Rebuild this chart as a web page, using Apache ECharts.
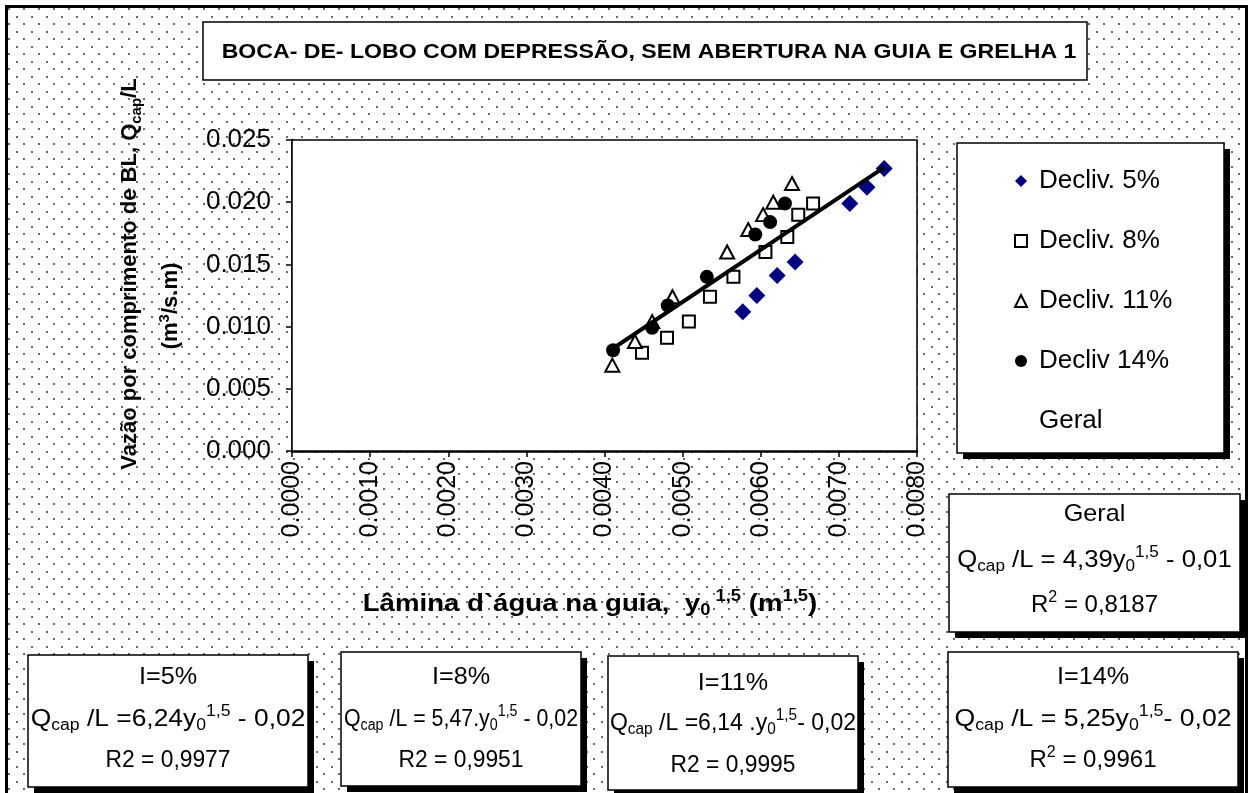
<!DOCTYPE html>
<html>
<head>
<meta charset="utf-8">
<script src="https://cdn.jsdelivr.net/npm/echarts@6/dist/echarts.min.js"></script>
<style>
  html, body { margin: 0; padding: 0; background: #fff; }
  #chart { width: 1253px; height: 793px; }
</style>
</head>
<body>
<div id="chart"></div>
<script>
// Decliv. 5%
var x5 = [0.00577, 0.00595, 0.00621, 0.00644, 0.00714, 0.00736, 0.00758];
var y5 = [0.0112, 0.0125, 0.0141, 0.0152, 0.0199, 0.0212, 0.0227];
// Decliv. 8%
var x8 = [0.00448, 0.00480, 0.00508, 0.00535, 0.00565, 0.00606, 0.00634, 0.00648, 0.00667];
var y8 = [0.0079, 0.0091, 0.0104, 0.0124, 0.0140, 0.0160, 0.0172, 0.0190, 0.0199];
// Decliv. 11%
var x11 = [0.00410, 0.00439, 0.00461, 0.00487, 0.00557, 0.00584, 0.00603, 0.00616, 0.00640];
var y11 = [0.0069, 0.0088, 0.0104, 0.0124, 0.0160, 0.0178, 0.0190, 0.0200, 0.0215];
// Decliv 14%
var x14 = [0.00411, 0.00461, 0.00481, 0.00531, 0.00593, 0.00612, 0.00631];
var y14 = [0.0081, 0.0099, 0.0117, 0.0140, 0.0174, 0.0184, 0.0199];
// Geral (linha de tendência)
var trendX = [0.00405, 0.00758];
var trendY = [0.0080, 0.0228];

var seriesNames = ['Decliv. 5%', 'Decliv. 8%', 'Decliv. 11%', 'Decliv 14%', 'Geral'];

var FONT = 'Liberation Sans, Arial, sans-serif';

function pairs(xs, ys) {
  return xs.map(function (x, i) { return [x, ys[i]]; });
}

// fundo pontilhado
var pat = document.createElement('canvas');
pat.width = 15; pat.height = 15;
var pc = pat.getContext('2d');
pc.fillStyle = '#6b6b6b';
pc.fillRect(1, 1, 2, 2);
pc.fillRect(8, 8, 2, 2);

// estilos de texto com índice / expoente
function mkRich(size, bold) {
  var w = bold ? 'bold' : 'normal';
  var s = Math.round(size * 0.66);
  return {
    n: { fontSize: size, lineHeight: size + 6, verticalAlign: 'middle', fontFamily: FONT, fontWeight: w, color: '#000' },
    sub: { fontSize: s, lineHeight: s, verticalAlign: 'bottom', fontFamily: FONT, fontWeight: w, color: '#000' },
    sup: { fontSize: s, lineHeight: s, verticalAlign: 'top', fontFamily: FONT, fontWeight: w, color: '#000' }
  };
}
var rich = mkRich(24, false);

function txt(x, y, text, r, rot, sx) {
  return {
    type: 'text', x: x, y: y, rotation: rot || 0, scaleX: sx || 1, z: 20,
    style: {
      text: text, rich: r || rich,
      align: 'center', verticalAlign: 'middle',
      textAlign: 'center', textVerticalAlign: 'middle'
    }
  };
}

function box(x, y, w, h, shadow) {
  var els = [];
  if (shadow) {
    els.push({ type: 'rect', z: 10, shape: { x: x + 6, y: y + 6, width: w, height: h }, style: { fill: '#000' } });
  }
  els.push({ type: 'rect', z: 11, shape: { x: x, y: y, width: w, height: h }, style: { fill: '#fff', stroke: '#000', lineWidth: 1.5 } });
  return els;
}

function eqBox(x, y, w, h, lines, cy, sx) {
  var cx = x + w / 2;
  var els = box(x, y, w, h, true);
  lines.forEach(function (t, i) { els.push(txt(cx, cy[i], t, rich, 0, sx[i])); });
  return els;
}

var graphics = [];
graphics.push({ type: 'rect', z: -10, shape: { x: 6.5, y: 6.5, width: 1240, height: 900 },
  style: { fill: { image: pat, repeat: 'repeat' }, stroke: '#000', lineWidth: 3 } });
// título
graphics = graphics.concat(box(203, 22, 884, 58, false));
graphics.push({ type: 'text', x: 649, y: 52, z: 20, scaleX: 1.1,
  style: { text: 'BOCA- DE- LOBO COM DEPRESSÃO, SEM ABERTURA NA GUIA E GRELHA 1',
    font: 'bold 21px ' + FONT, fill: '#000', align: 'center', verticalAlign: 'middle',
    textAlign: 'center', textVerticalAlign: 'middle' } });
// legenda
graphics = graphics.concat(box(957, 143, 267, 310, true));
// títulos dos eixos
graphics.push(txt(130, 274, '{n|Vazão por comprimento de BL, Q}{sub|cap}{n|/L}', mkRich(22, true), Math.PI / 2));
graphics.push(txt(171, 306, '{n|(m}{sup|3}{n|/s.m)}', mkRich(22, true), Math.PI / 2));
graphics.push(txt(590, 604, '{n|Lâmina d`água na guia,  y}{sub|0}{sup| 1,5}{n| (m}{sup|1,5}{n|)}', mkRich(24, true), 0, 1.15));
// caixas de equações
graphics = graphics.concat(eqBox(949, 494, 291, 138, [
  '{n|Geral}',
  '{n|Q}{sub|cap}{n| /L = 4,39y}{sub|0}{sup|1,5}{n| - 0,01}',
  '{n|R}{sup|2}{n| = 0,8187}'
], [514, 560, 605], [1.05, 1.07, 1.0]));
graphics = graphics.concat(eqBox(28, 655, 280, 132, [
  '{n|I=5%}',
  '{n|Q}{sub|cap}{n| /L =6,24y}{sub|0}{sup|1,5}{n| - 0,02}',
  '{n|R2 = 0,9977}'
], [677, 719, 760], [1.05, 1.1, 0.95]));
graphics = graphics.concat(eqBox(341, 652, 240, 134, [
  '{n|I=8%}',
  '{n|Q}{sub|cap}{n| /L = 5,47.y}{sub|0}{sup|1,5}{n| - 0,02}',
  '{n|R2 = 0,9951}'
], [677, 719, 760], [1.05, 0.89, 0.95]));
graphics = graphics.concat(eqBox(608, 656, 250, 134, [
  '{n|I=11%}',
  '{n|Q}{sub|cap}{n| /L =6,14 .y}{sub|0}{sup|1,5}{n|- 0,02}',
  '{n|R2 = 0,9995}'
], [683, 723, 765], [1.05, 0.96, 0.95]));
graphics = graphics.concat(eqBox(948, 652, 290, 135, [
  '{n|I=14%}',
  '{n|Q}{sub|cap}{n| /L = 5,25y}{sub|0}{sup|1,5}{n|- 0,02}',
  '{n|R}{sup|2}{n| = 0,9961}'
], [677, 719, 760], [1.05, 1.11, 1.0]));

var chart = echarts.init(document.getElementById('chart'), null, { renderer: 'canvas' });

var option = {
  animation: false,
  backgroundColor: '#fff',
  textStyle: { fontFamily: FONT },
  grid: {
    left: 292, top: 140, width: 625, height: 311,
    show: true, backgroundColor: '#fff', borderColor: '#000', borderWidth: 1.5, z: 1
  },
  xAxis: {
    type: 'value', min: 0, max: 0.008, interval: 0.001,
    axisLine: { onZero: false, lineStyle: { color: '#000', width: 2.5 } },
    axisTick: { show: true, length: 6, lineStyle: { color: '#000', width: 1.5 } },
    axisLabel: { rotate: 90, margin: 10, fontSize: 25, color: '#000', fontFamily: FONT,
      formatter: function (v) { return v.toFixed(4); } },
    splitLine: { show: true, lineStyle: { color: '#6e6e6e', width: 1.5, type: [8, 6] } }
  },
  yAxis: {
    type: 'value', min: 0, max: 0.025, interval: 0.005,
    axisLine: { onZero: false, lineStyle: { color: '#000', width: 2.5 } },
    axisTick: { show: true, length: 6, lineStyle: { color: '#000', width: 1.5 } },
    axisLabel: { margin: 21, fontSize: 26, color: '#000', fontFamily: FONT,
      formatter: function (v) { return v.toFixed(3); } },
    splitLine: { show: true, lineStyle: { color: '#000', width: 1 } }
  },
  legend: {
    orient: 'vertical', left: 1014, top: 168, z: 50, padding: 0,
    itemWidth: 12, itemHeight: 12, itemGap: 34,
    textStyle: { fontSize: 26, lineHeight: 25, color: '#000', fontFamily: FONT, padding: [0, 0, 0, 7] },
    data: [
      { name: seriesNames[0] },
      { name: seriesNames[1] },
      { name: seriesNames[2] },
      { name: seriesNames[3] },
      { name: seriesNames[4], icon: 'rect', itemStyle: { opacity: 0 }, lineStyle: { opacity: 0 } }
    ]
  },
  graphic: { elements: graphics },
  series: [
    { name: seriesNames[0], type: 'scatter', symbol: 'diamond', symbolSize: [17, 17], z: 3,
      itemStyle: { color: '#000080', opacity: 1 }, data: pairs(x5, y5) },
    { name: seriesNames[1], type: 'scatter', symbol: 'rect', symbolSize: [12, 12], z: 3,
      itemStyle: { color: '#fff', borderColor: '#000', borderWidth: 2, opacity: 1 }, data: pairs(x8, y8) },
    { name: seriesNames[2], type: 'scatter', symbol: 'triangle', symbolSize: [14, 13], z: 3,
      itemStyle: { color: '#fff', borderColor: '#000', borderWidth: 2, opacity: 1 }, data: pairs(x11, y11) },
    { name: seriesNames[3], type: 'scatter', symbol: 'circle', symbolSize: 14, z: 3,
      itemStyle: { color: '#000', opacity: 1 }, data: pairs(x14, y14) },
    { name: seriesNames[4], type: 'line', symbol: 'none', z: 4,
      lineStyle: { color: '#000', width: 4 }, data: pairs(trendX, trendY) }
  ]
};

chart.setOption(option);
</script>
</body>
</html>
